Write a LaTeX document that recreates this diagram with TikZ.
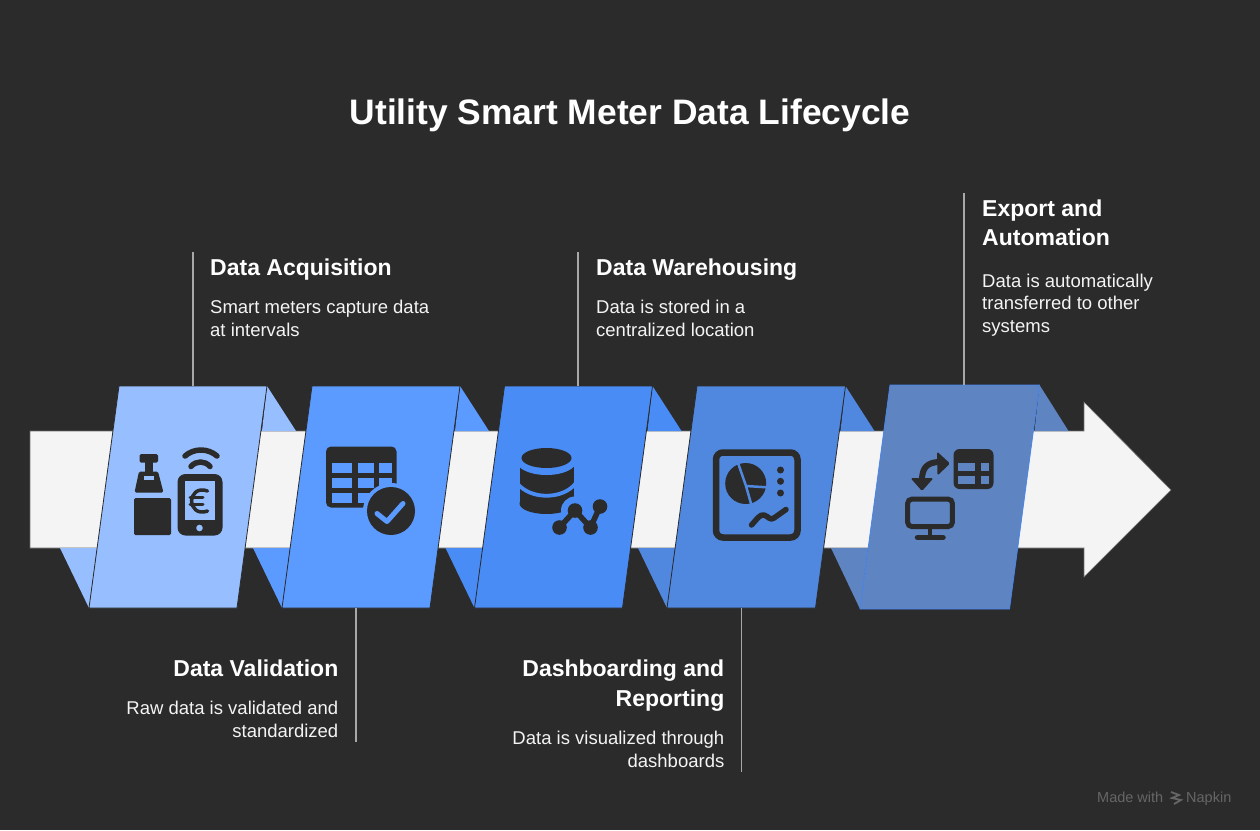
\documentclass[tikz,border=0pt]{standalone}
\usepackage{fontspec}
\setmainfont{Liberation Sans}
\definecolor{bgdark}{HTML}{2B2B2B}
\definecolor{bandlight}{HTML}{F4F4F4}
\definecolor{leadergrey}{HTML}{A8A8A8}
\definecolor{markgrey}{HTML}{666666}
\definecolor{stepa}{HTML}{97BEFF}
\definecolor{stepb}{HTML}{5B9BFF}
\definecolor{stepc}{HTML}{4A8CF5}
\definecolor{stepd}{HTML}{5087DF}
\definecolor{stepe}{HTML}{5E84C2}
\definecolor{edgee}{HTML}{4A85EA}
\tikzset{
  leader/.style={draw=leadergrey,line width=1.3pt},
  heading/.style={inner sep=0pt,text=white,font=\fontsize{23}{29.5}\selectfont\bfseries},
  bodytext/.style={inner sep=0pt,text=bandlight,font=\fontsize{18.5}{22.3}\selectfont},
  iconfill/.style={fill=bgdark,draw=none},
  iconline/.style={draw=bgdark,line cap=round,line join=round},
}
\begin{document}
\begin{tikzpicture}[x=1pt,y=-1pt]
    \useasboundingbox[fill=bgdark] (0,0) rectangle (1260,830);

    % Title
    \node[inner sep=0pt,anchor=base,text=white,font=\fontsize{35.4}{40}\selectfont\bfseries] (title) at (630,124) {Utility Smart Meter Data Lifecycle};

    % Band with arrow head
    \draw[fill=bandlight,draw=bgdark!70!white,line width=0.6pt]
        (30,431) -- (1084,431) -- (1084,402) -- (1171,490) -- (1084,577) -- (1084,548) -- (30,548) -- cycle;

    % Five slanted panels with their folds
    \foreach \name/\x/\w/\t/\b/\col/\edge in {
        acq/0/148/386/608/stepa/bgdark,
        val/193/148/386/608/stepb/bgdark,
        ware/385.5/148/386/608/stepc/bgdark,
        dash/578/148.5/386/608/stepd/bgdark,
        expo/771/149.5/385/609/stepe/edgee} {
        \fill[\col] ({119+\x+\w},\t) -- ({148+\x+\w},431) -- ({114+\x+\w},431) -- cycle;
        \fill[\col] ({60+\x},548) -- ({89+\x},\b) -- ({97+\x},548) -- cycle;
        \draw[fill=\col,draw=\edge,line width=0.8pt]
            ({119+\x},\t) -- ({119+\x+\w},\t) -- ({89+\x+\w},\b) -- ({89+\x},\b) -- cycle;
    }

    % Leader lines
    \coordinate (acqtop) at (193,252);
    \coordinate (acqfoot) at (193,386);
    \coordinate (valtop) at (356,608);
    \coordinate (valfoot) at (356,742);
    \coordinate (waretop) at (578,252);
    \coordinate (warefoot) at (578,386);
    \coordinate (dashtop) at (741.5,608);
    \coordinate (dashfoot) at (741.5,772);
    \coordinate (expotop) at (964,193);
    \coordinate (expofoot) at (964,385);
    \foreach \a/\b in {acqtop/acqfoot, valtop/valfoot, waretop/warefoot, dashtop/dashfoot, expotop/expofoot}
        \draw[leader] (\a) -- (\b);

    % Labels
    \node[heading,anchor=base west] (acqhead) at (210,275) {Data Acquisition};
    \node[bodytext,anchor=base west,align=left] (acqtext) at (210,336) {Smart meters capture data\\at intervals};
    \node[heading,anchor=base east] (valhead) at (338.5,676) {Data Validation};
    \node[bodytext,anchor=base east,align=right] (valtext) at (338.5,737) {Raw data is validated and\\standardized};
    \node[heading,anchor=base west] (warehead) at (596,275) {Data Warehousing};
    \node[bodytext,anchor=base west,align=left] (waretext) at (596,336) {Data is stored in a\\centralized location};
    \node[heading,anchor=base east,align=right] (dashhead) at (724.5,706) {Dashboarding and\\Reporting};
    \node[bodytext,anchor=base east,align=right] (dashtext) at (724.5,767) {Data is visualized through\\dashboards};
    \node[heading,anchor=base west,align=left] (expohead) at (982,245.5) {Export and\\Automation};
    \node[bodytext,anchor=base west,align=left] (expotext) at (982,332) {Data is automatically\\transferred to other\\systems};

    % Icon 1: meter and phone
    \fill[iconfill,rounded corners=1.5pt] (134,498) rectangle (171,535);
    \fill[iconfill,rounded corners=1.5pt] (139.5,454) rectangle (158,462.5);
    \fill[iconfill] (145,460) rectangle (153,473);
    \fill[iconfill,rounded corners=1.5pt] (139,471.5) -- (158,471.5) -- (163.5,492.5) -- (134.5,492.5) -- cycle;
    \fill[stepa] (143.5,476) rectangle (154,479.5);
    \fill[iconfill,rounded corners=8pt] (177.5,474) rectangle (222.5,535.5);
    \fill[stepa] (185,481) rectangle (215,520);
    \fill[stepa] (199.5,528) circle (3.3);
    \draw[iconline,line width=3.5pt] (207.5,491) .. controls (197,487) and (191.5,495) .. (191.5,501) .. controls (191.5,507) and (197,515) .. (207.5,511);
    \draw[iconline,line width=3pt] (190,497.5) -- (203,497.5) (190,504.5) -- (203,504.5);
    \draw[iconline,line width=5.5pt] (185,456) .. controls (194,448) and (208,448) .. (217,456);
    \draw[iconline,line width=5.5pt] (191,466.5) .. controls (196,460.5) and (205,460.5) .. (210,466.5);

    % Icon 2: table and check
    \fill[iconfill,rounded corners=5pt] (326,446.5) rectangle (396.5,507.5);
    \foreach \cx/\cw in {331.5/20.5, 357.5/16, 378.5/13.5}
        \foreach \cy in {462.5, 477.5, 493}
            \fill[stepb] (\cx,\cy) rectangle ({\cx+\cw},{\cy+10});
    \fill[stepb] (391,511) circle (28);
    \fill[bgdark] (391,511) circle (24);
    \draw[draw=stepb,line cap=round,line join=round,line width=5pt] (377,513.5) -- (387,521.5) -- (403,503.5);

    % Icon 3: database and trend
    \fill[iconfill] (519.5,465) rectangle (573.5,503);
    \fill[iconfill] (546.5,503.5) ellipse (27 and 10.5);
    \fill[stepc] (546.5,461) ellipse (30 and 14);
    \fill[iconfill] (546.5,458) ellipse (25 and 10);
    \draw[draw=stepc,line width=3.8pt] (517,483) .. controls (530,500) and (563,500) .. (576,483);
    \fill[stepc] (575,510.5) circle (14);
    \fill[stepc] (559.5,527.5) circle (11);
    \draw[iconline,line width=5.5pt] (559.5,527.5) -- (575,510.5) -- (590.5,527.5) -- (600,506.5);
    \foreach \px/\py in {559.5/527.5, 575/510.5, 590.5/527.5, 600/506.5}
        \fill[bgdark] (\px,\py) circle (7.3);

    % Icon 4: dashboard
    \draw[draw=bgdark,line width=6.5pt,rounded corners=7pt] (716,452.5) rectangle (797.5,537.5);
    \fill[bgdark] (745.7,483.5) circle (20.5);
    \draw[draw=stepd,line width=2.5pt] (737,460) -- (746,486) -- (770,487.5) (746,486) -- (752,507);
    \foreach \py in {470, 481.3, 493}
        \fill[bgdark] (780.5,\py) circle (3.5);
    \draw[iconline,line width=5.5pt] (751.5,525) .. controls (757,519) and (760,514) .. (764,515) .. controls (768,516) and (770,521) .. (774,518) -- (786,509.5);

    % Icon 5: export
    \fill[iconfill,rounded corners=6pt] (953.5,449) rectangle (993.5,489);
    \foreach \cx/\cw in {958.2/17.2, 980.6/7.9}
        \foreach \cy in {463, 476}
            \fill[stepe] (\cx,\cy) rectangle ({\cx+\cw},{\cy+7.5});
    \draw[draw=bgdark,line width=5pt,rounded corners=4pt] (907.7,499.2) rectangle (952.3,526.5);
    \draw[iconline,line width=4.5pt] (930,529) -- (930,537);
    \draw[iconline,line width=5.5pt] (917.5,537.5) -- (943,537.5);
    \draw[draw=bgdark,line width=6pt] (940,462) .. controls (927,462) and (922,468) .. (922,480);
    \fill[iconfill,rounded corners=1.5pt] (937,451.5) -- (950,463.5) -- (937.5,475.5) -- cycle;
    \fill[iconfill,rounded corners=1.5pt] (910.5,478) -- (933.5,478) -- (922,491) -- cycle;

    % Watermark
    \node[inner sep=0pt,anchor=base west,text=markgrey,font=\fontsize{14.5}{16}\selectfont] (markmade) at (1097,802) {Made with};
    \node[inner sep=0pt,anchor=base west,text=markgrey,font=\fontsize{14.5}{16}\selectfont] (markname) at (1186,802) {Napkin};
    \draw[draw=markgrey,line width=1.8pt] (1171,792) -- (1179,795) -- (1172,798) -- (1181,800) -- (1174,804);
\end{tikzpicture}
\end{document}
